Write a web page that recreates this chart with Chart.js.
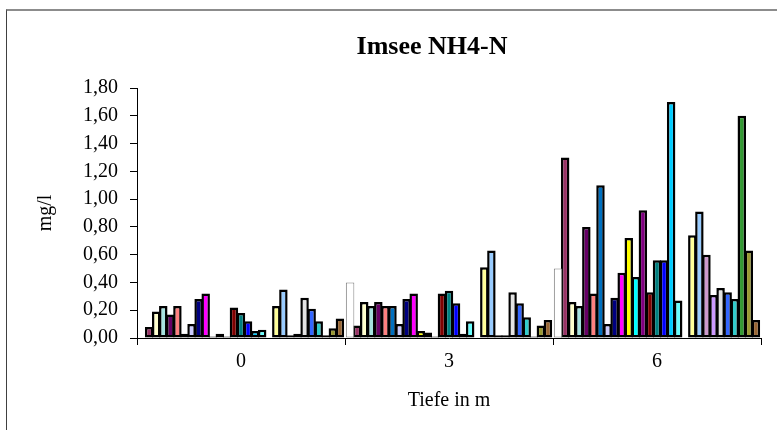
<!DOCTYPE html>
<html>
<head>
<meta charset="utf-8">
<script src="https://cdn.jsdelivr.net/npm/chart.js@4"></script>
<style>
  html, body { margin: 0; padding: 0; background: #fff; overflow: hidden; }
  #frame { position: absolute; left: 6px; top: 9px; width: 900px; height: 500px; border-left: 1px solid #404040; border-top: 2px solid #8c8c8c; }
  #wrap { position: absolute; left: 0; top: 0; width: 864px; height: 430px; }
</style>
</head>
<body>
<div id="frame"></div>
<div id="wrap"><canvas id="chart"></canvas></div>
<script>
// depth categories on the x axis
const depths = ['0', '3', '6'];

// NH4-N in mg/l, one entry per sample series (29 series, #19 has no data)
const depth0 = [0, 0.08, 0.19, 0.23, 0.17, 0.23, 0.03, 0.10, 0.28, 0.32, 0.01, 0.03, 0.01, 0.22, 0.18,
  0.12, 0.05, 0.06, null, 0.23, 0.35, 0.02, 0.03, 0.29, 0.21, 0.12, 0.02, 0.07, 0.14];
const depth3 = [0.40, 0.09, 0.26, 0.23, 0.26, 0.23, 0.23, 0.10, 0.28, 0.32, 0.05, 0.04, 0.01, 0.32, 0.34,
  0.25, 0.03, 0.12, null, 0.51, 0.63, 0.02, 0.02, 0.33, 0.25, 0.15, 0.01, 0.09, 0.13];
const depth6 = [0.50, 1.30, 0.26, 0.23, 0.80, 0.32, 1.10, 0.10, 0.29, 0.47, 0.72, 0.44, 0.92, 0.33, 0.56,
  0.56, 1.70, 0.27, null, 0.74, 0.91, 0.60, 0.31, 0.36, 0.33, 0.28, 1.60, 0.63, 0.13];

// fill colour of each series
const seriesColors = ['#ffffff', '#993366', '#ffffcc', '#a6e3e0', '#660066', '#ff8080', '#0070c0', '#ccccff',
  '#000080', '#ff00ff', '#ffff00', '#00ffff', '#800080', '#800000', '#008080', '#0000ff', '#00ccff',
  '#66ffff', '#ccffcc', '#ffff99', '#99ccff', '#cc99cc', '#cc99ff', '#e3e3e3', '#3366ff', '#33cccc',
  '#339933', '#999933', '#996633'];

const chartTitle = 'Imsee NH4-N';
const serif = 'Liberation Serif, Times New Roman, serif';

const datasets = seriesColors.map((color, i) => ({
  label: 'Serie ' + (i + 1),
  data: [depth0[i], depth3[i], depth6[i]],
  backgroundColor: color,
  borderColor: i === 0 ? '#808080' : '#000000',
  borderWidth: i === 0 ? 1 : 2.5,
  borderSkipped: false,
  categoryPercentage: 0.985,
  barPercentage: 1.2
}));

// the original title sits centred on the whole (wider) chart frame, not on the plot
const titlePlugin = {
  id: 'frameTitle',
  afterDraw(chart) {
    const ctx = chart.ctx;
    ctx.save();
    ctx.fillStyle = '#000';
    ctx.font = 'bold 26px ' + serif;
    ctx.textAlign = 'center';
    ctx.textBaseline = 'middle';
    ctx.fillText(chartTitle, 432, 47);
    ctx.restore();
  }
};

new Chart(document.getElementById('chart'), {
  type: 'bar',
  data: { labels: depths, datasets },
  plugins: [titlePlugin],
  options: {
    responsive: true,
    maintainAspectRatio: false,
    animation: false,
    layout: { padding: { left: 0, right: 103, top: 88, bottom: 0 } },
    plugins: {
      legend: { display: false },
      tooltip: { enabled: false },
      title: { display: false }
    },
    scales: {
      x: {
        grid: { offset: true, drawOnChartArea: false, color: '#000', tickLength: 7 },
        border: { color: '#000', width: 1 },
        ticks: { color: '#000', font: { family: serif, size: 20 }, padding: 5 },
        title: {
          display: true, text: 'Tiefe in m', color: '#000',
          font: { family: serif, size: 20 }, padding: { top: 0, bottom: 17 }
        },
        afterFit: (scale) => { scale.height = 92; }
      },
      y: {
        min: 0,
        max: 1.8,
        grid: { drawOnChartArea: false, color: '#000', tickLength: 7 },
        border: { color: '#000', width: 1 },
        ticks: {
          stepSize: 0.2, color: '#000', padding: 12,
          font: { family: serif, size: 20 },
          callback: (v) => v.toFixed(2).replace('.', ',')
        },
        title: {
          display: true, text: 'mg/l', color: '#000',
          font: { family: serif, size: 20 }, padding: { top: 34, bottom: 0 }
        },
        afterFit: (scale) => { scale.width = 137; }
      }
    }
  }
});
</script>
</body>
</html>
